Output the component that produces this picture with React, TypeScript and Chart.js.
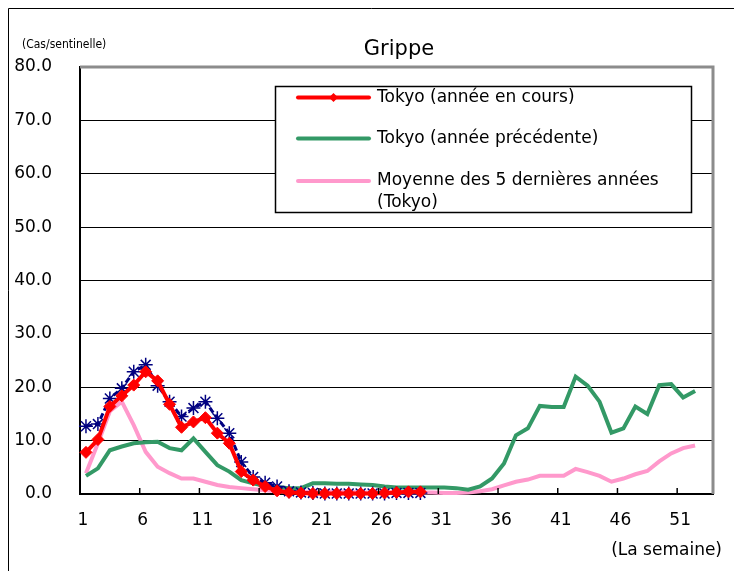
import React, { useEffect, useRef } from 'react';
import { Chart, registerables } from 'chart.js';

Chart.register(...registerables);

const weeks = [
  '1', '2', '3', '4', '5', '6', '7', '8', '9', '10',
  '11', '12', '13', '14', '15', '16', '17', '18', '19', '20',
  '21', '22', '23', '24', '25', '26', '27', '28', '29', '30',
  '31', '32', '33', '34', '35', '36', '37', '38', '39', '40',
  '41', '42', '43', '44', '45', '46', '47', '48', '49', '50',
  '51', '52', '53',
];

const currentYear = [
  7.8, 10.2, 16.4, 18.4, 20.4, 22.9, 21.2, 16.8, 12.5, 13.5,
  14.3, 11.4, 9.5, 4.2, 2.6, 1.4, 0.6, 0.3, 0.2, 0.1,
  0.1, 0.1, 0.1, 0.1, 0.1, 0.2, 0.3, 0.4, 0.4,
];

const previousYear = [
  3.4, 4.8, 8.2, 8.9, 9.5, 9.7, 9.8, 8.6, 8.2, 10.4,
  7.9, 5.4, 4.2, 2.6, 2.0, 1.5, 1.3, 1.1, 1.1, 2.0,
  2.0, 1.9, 1.9, 1.8, 1.7, 1.4, 1.2, 1.2, 1.2, 1.2,
  1.2, 1.1, 0.8, 1.4, 2.9, 5.7, 11.0, 12.3, 16.5, 16.3,
  16.3, 22.0, 20.3, 17.3, 11.5, 12.3, 16.4, 15.0, 20.4, 20.6,
  18.1, 19.3,
];

const fiveYearAvg = [
  3.9, 9.5, 15.5, 17.3, 12.9, 7.9, 5.1, 3.9, 2.9, 2.9,
  2.3, 1.7, 1.3, 1.1, 0.9, 0.7, 0.5, 0.4, 0.4, 0.4,
  0.4, 0.4, 0.4, 0.3, 0.3, 0.3, 0.3, 0.3, 0.3, 0.3,
  0.2, 0.2, 0.3, 0.5, 0.9, 1.6, 2.3, 2.7, 3.4, 3.4,
  3.4, 4.7, 4.1, 3.4, 2.3, 2.9, 3.7, 4.3, 6.1, 7.6,
  8.6, 9.1,
];

const otherSeries = [
  12.7, 13.1, 17.9, 19.8, 22.9, 24.2, 20.3, 17.3, 14.5, 16.1,
  17.3, 14.2, 11.4, 6.0, 3.2, 2.1, 1.4, 0.5, 0.3, 0.2,
  0.1, 0.1, 0.1, 0.1, 0.1, 0.1, 0.2, 0.2, 0.2,
];

const legendLabels: string[][] = [
  ['Tokyo (année en cours)'],
  ['Tokyo (année précédente)'],
  ['Moyenne des 5 dernières années', '(Tokyo)'],
];

const chartTitle = 'Grippe';
const yUnitLabel = '(Cas/sentinelle)';
const xUnitLabel = '(La semaine)';
const yMin = 0;
const yMax = 80;
const yStep = 10;
const xLabelEvery = 5;

const FONT = "'DejaVu Sans', Verdana, sans-serif";

const decorPlugin = {
  id: 'decor',
  afterDraw(chart: any) {
    const { ctx, chartArea: ca } = chart;
    const x = chart.scales.x;
    ctx.save();

    // outer frame
    ctx.strokeStyle = '#000';
    ctx.lineWidth = 1;
    ctx.beginPath();
    ctx.moveTo(8.5, 600);
    ctx.lineTo(8.5, 8.5);
    ctx.lineTo(760, 8.5);
    ctx.stroke();

    // gray top / right plot border
    ctx.strokeStyle = '#8c8c8c';
    ctx.lineWidth = 3;
    ctx.beginPath();
    ctx.moveTo(ca.left, ca.top);
    ctx.lineTo(ca.right, ca.top);
    ctx.lineTo(ca.right, ca.bottom);
    ctx.stroke();

    // inward tick marks between categories
    ctx.strokeStyle = '#000';
    ctx.lineWidth = 1.5;
    for (let i = xLabelEvery; i < weeks.length; i += xLabelEvery) {
      const xp = (x.getPixelForValue(i - 1) + x.getPixelForValue(i)) / 2;
      ctx.beginPath();
      ctx.moveTo(xp, ca.bottom);
      ctx.lineTo(xp, ca.bottom - 6);
      ctx.stroke();
    }

    // titles
    ctx.fillStyle = '#000';
    ctx.textBaseline = 'middle';
    ctx.textAlign = 'center';
    ctx.font = `21px ${FONT}`;
    ctx.fillText(chartTitle, 399, 50);

    ctx.textAlign = 'left';
    ctx.font = "12px 'Liberation Sans Narrow', 'DejaVu Sans Condensed', sans-serif";
    ctx.fillText(yUnitLabel, 22, 45);

    ctx.textAlign = 'right';
    ctx.font = `17px ${FONT}`;
    ctx.fillText(xUnitLabel, 722, 551);

    // legend box
    const lx = 275.5, ly = 86.5, lw = 416, lh = 126;
    ctx.fillStyle = '#fff';
    ctx.fillRect(lx, ly, lw, lh);
    ctx.strokeStyle = '#000';
    ctx.lineWidth = 1.5;
    ctx.strokeRect(lx, ly, lw, lh);

    const rowsY = [97.5, 138.5, 181];
    const ds = chart.data.datasets;
    ctx.font = `17px ${FONT}`;
    ctx.textAlign = 'left';
    ctx.textBaseline = 'middle';
    for (let i = 0; i < legendLabels.length; i++) {
      const y = rowsY[i];
      const d = ds[i];
      ctx.strokeStyle = d.borderColor;
      ctx.lineWidth = 4;
      ctx.lineCap = 'round';
      ctx.beginPath();
      ctx.moveTo(298, y);
      ctx.lineTo(369, y);
      ctx.stroke();
      if (d.pointRadius > 0) {
        ctx.fillStyle = d.pointBackgroundColor;
        ctx.beginPath();
        ctx.moveTo(333.5, y - 4.5);
        ctx.lineTo(338, y);
        ctx.lineTo(333.5, y + 4.5);
        ctx.lineTo(329, y);
        ctx.closePath();
        ctx.fill();
      }
      ctx.fillStyle = '#000';
      legendLabels[i].forEach((t, j) => {
        ctx.fillText(t, 377, y + j * 22);
      });
    }
    ctx.restore();
  },
};

export default function App() {
  const ref = useRef<HTMLCanvasElement | null>(null);

  useEffect(() => {
    if (!ref.current) return;
    const chart = new Chart(ref.current, {
      type: 'line',
      data: {
        labels: weeks,
        datasets: [
          {
            label: legendLabels[0].join(' '),
            data: currentYear,
            borderColor: '#ff0000',
            backgroundColor: '#ff0000',
            pointBackgroundColor: '#ff0000',
            pointBorderColor: '#ff0000',
            borderWidth: 4,
            pointStyle: 'rectRot',
            pointRadius: 6,
            pointBorderWidth: 1,
            tension: 0,
            clip: false,
            order: 0,
          },
          {
            label: legendLabels[1].join(' '),
            data: previousYear,
            borderColor: '#339966',
            backgroundColor: '#339966',
            borderWidth: 4,
            pointRadius: 0,
            tension: 0,
            clip: false,
            order: 2,
          },
          {
            label: legendLabels[2].join(' '),
            data: fiveYearAvg,
            borderColor: '#ff99cc',
            backgroundColor: '#ff99cc',
            borderWidth: 4,
            pointRadius: 0,
            tension: 0,
            clip: false,
            order: 3,
          },
          {
            label: 'other',
            data: otherSeries,
            borderColor: '#000080',
            backgroundColor: '#000080',
            pointBorderColor: '#000080',
            borderWidth: 3,
            borderDash: [6, 3],
            pointStyle: 'star',
            pointRadius: 7,
            pointBorderWidth: 1.5,
            tension: 0,
            clip: false,
            order: 1,
          },
        ],
      },
      options: {
        responsive: false,
        animation: false,
        devicePixelRatio: 1,
        layout: { padding: { left: 0, top: 67, right: 21, bottom: 0 } },
        plugins: {
          legend: { display: false },
          tooltip: { enabled: false },
          title: { display: false },
        },
        scales: {
          x: {
            type: 'category',
            offset: true,
            grid: { display: false, offset: true, drawTicks: false },
            border: { display: true, color: '#000', width: 2 },
            afterFit: (s: any) => { s.height = 77; },
            ticks: {
              autoSkip: false,
              maxRotation: 0,
              minRotation: 0,
              padding: 16,
              labelOffset: -3,
              color: '#000',
              font: { family: FONT, size: 17 },
              callback: (_v: any, i: number) => (i % xLabelEvery === 0 ? weeks[i] : ''),
            },
          },
          y: {
            min: yMin,
            max: yMax,
            afterFit: (s: any) => { s.width = 80; },
            grid: { color: '#000', lineWidth: 1, drawTicks: false },
            border: { display: true, color: '#000', width: 2 },
            ticks: {
              stepSize: yStep,
              padding: 28,
              color: '#000',
              font: { family: FONT, size: 17 },
              callback: (v: any) => Number(v).toFixed(1),
            },
          },
        },
      },
      plugins: [decorPlugin],
    });
    return () => chart.destroy();
  }, []);

  return (
    <div style={{ position: 'fixed', left: 0, top: 0, width: 734, height: 571, background: '#fff' }}>
      <canvas ref={ref} width={734} height={571} style={{ display: 'block', width: 734, height: 571 }} />
    </div>
  );
}
